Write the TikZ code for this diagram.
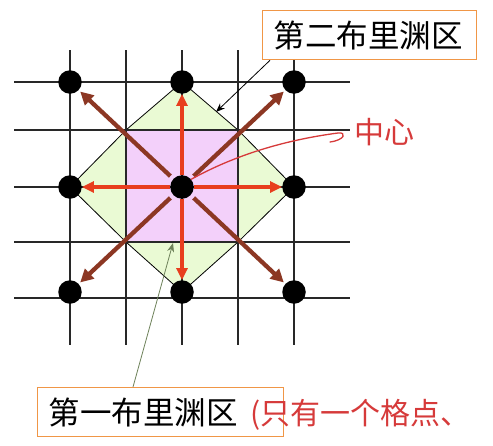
\documentclass[tikz,border=0pt]{standalone}
\usepackage{fontspec}
\newfontfamily\cjk{Noto Sans CJK SC}
\usetikzlibrary{arrows.meta}
\definecolor{zonepink}{RGB}{243,208,250}
\definecolor{zonegreen}{RGB}{234,250,212}
\definecolor{gridgray}{RGB}{40,40,40}
\definecolor{arrred}{RGB}{232,62,30}
\definecolor{arrbrown}{RGB}{140,55,35}
\definecolor{boxorange}{RGB}{240,150,70}
\definecolor{handred}{RGB}{214,58,58}
\definecolor{ptrgreen}{RGB}{110,130,90}
\begin{document}
\begin{tikzpicture}[x=1pt,y=-1pt,
 lattice/.style={circle,fill=black,minimum size=23.5pt,inner sep=0pt},
 gridline/.style={draw=gridgray,line width=1.8pt},
 redarrow/.style={draw=arrred,line width=3.3pt,-{Triangle[length=12pt,width=11pt]}},
 brownarrow/.style={draw=arrbrown,line width=4.3pt,shorten <=4pt,shorten >=2pt,-{Triangle[length=13pt,width=13pt]}},
 labelbox/.style={draw=boxorange,line width=1.3pt,fill=white,inner xsep=11pt,inner ysep=0pt,minimum height=49pt,align=left,anchor=north west,font=\cjk\fontsize{31.5}{36}\selectfont},
 handtext/.style={text=handred,font=\cjk\fontsize{30}{34}\selectfont,inner sep=0pt},
 pointer/.style={line width=0.8pt,-{Stealth[length=9pt,width=7pt]}}
]
\useasboundingbox (0,0) rectangle (493,445);
\fill[white] (0,0) rectangle (493,445);
% zones
\fill[zonegreen] (182,82) -- (238,130) -- (294,187) -- (238,242) -- (182,292) -- (126,242) -- (70,187) -- (126,130) -- cycle;
\draw[line width=0.8pt] (182,82) -- (238,130) -- (294,187) -- (238,242) -- (182,292) -- (126,242) -- (70,187) -- (126,130) -- cycle;
\fill[zonepink] (126,130) rectangle (238,242);
% grid
\foreach \y in {82,130,187,242,298} \draw[gridline] (14,\y) -- (350,\y);
\foreach \x in {70,126,182,238,294} \draw[gridline] (\x,50) -- (\x,345);
% lattice points
\node[lattice] (c) at (182,187) {};
\node[lattice] (n) at (182,82) {};
\node[lattice] (s) at (182,292) {};
\node[lattice] (e) at (294,187) {};
\node[lattice] (w) at (70,187) {};
\node[lattice] (nw) at (70,82) {};
\node[lattice] (ne) at (294,82) {};
\node[lattice] (sw) at (70,292) {};
\node[lattice] (se) at (294,292) {};
% arrows
\draw[redarrow] (c) -- (n);
\draw[redarrow] (c) -- (s);
\draw[redarrow] (c) -- (e);
\draw[redarrow] (c) -- (w);
\draw[brownarrow] (c) -- (nw);
\draw[brownarrow] (c) -- (ne);
\draw[brownarrow] (c) -- (sw);
\draw[brownarrow] (c) -- (se);
% label boxes
\node[labelbox,text width=192pt] (b2) at (262,10) {第二布里渊区};
\node[labelbox,text width=224pt] (b1) at (37,387) {第一布里渊区};
\coordinate (p2) at (216,112);
\coordinate (p1) at (173,243);
\draw[pointer,black] ([xshift=8pt]b2.south west) -- (p2);
\draw[pointer,ptrgreen] ([xshift=96pt]b1.north west) -- (p1);
% handwriting
\node[handtext] (hc) at (384,132) {中心};
\node[handtext,anchor=west] (hn) at (250,415) {(只有一个格点、};
\draw[handred,line width=1.3pt,line cap=round,line join=round] (c.40) .. controls (235,155) and (285,140) .. (338,133) .. controls (347,132) and (345,140) .. (330,142);
\end{tikzpicture}
\end{document}
